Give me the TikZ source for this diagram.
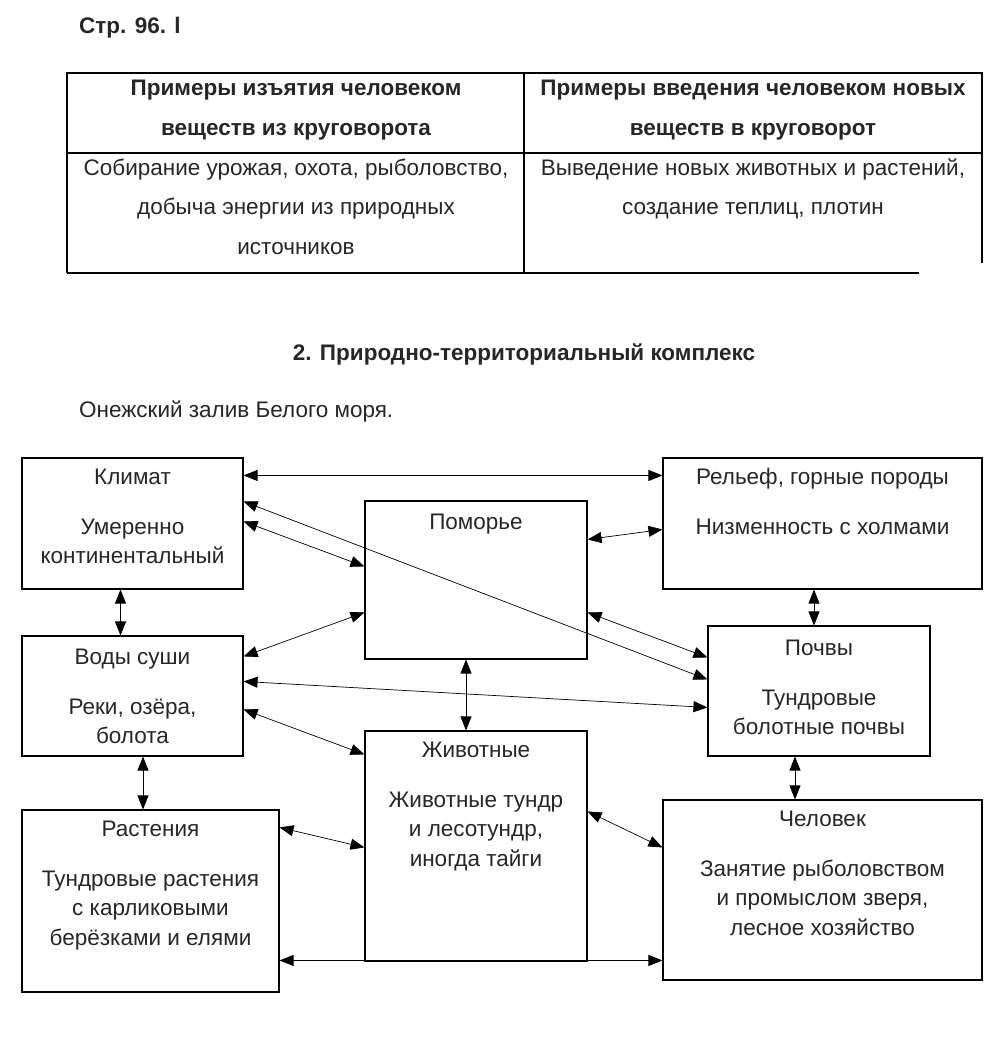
\documentclass[tikz,border=0pt]{standalone}
\usepackage{fontspec}
\setmainfont{Liberation Sans}
\usetikzlibrary{arrows.meta}

\begin{document}
\begin{tikzpicture}[x=1pt,y=-1pt,>={Triangle[length=14pt,width=11pt]},
    box/.style={draw, line width=1.1pt, inner sep=0pt},
    txt/.style={text=black!85, font=\fontsize{22.5}{29.5}\selectfont, align=center, inner sep=0pt, anchor=base},
    cell/.style={txt, font=\fontsize{22.5}{39.5}\selectfont},
    head/.style={cell, font=\fontsize{22.5}{40}\selectfont\bfseries},
    link/.style={<->, line width=0.7pt},
    rule/.style={line width=1.1pt}]
  \useasboundingbox (0,0) rectangle (993,1037);
  % page header and table (anchor base = baseline of the last line)
  \node[txt, anchor=base west, font=\fontsize{22.5}{27}\selectfont\bfseries] (page) at (79,33) {Стр. 96. l};
  \draw[rule] (67,273) -- (67,73) -- (982,73) -- (982,263);
  \draw[rule] (67,153) -- (982,153);
  \draw[rule] (67,273) -- (919,273);
  \draw[rule] (524,73) -- (524,273);
  \node[head] (hdL) at (296,135) {Примеры изъятия человеком\\веществ из круговорота};
  \node[head] (hdR) at (753,135) {Примеры введения человеком новых\\веществ в круговорот};
  \node[cell] (cellL) at (296,254) {Собирание урожая, охота, рыболовство,\\добыча энергии из природных\\источников};
  \node[cell] (cellR) at (753,214.5) {Выведение новых животных и растений,\\создание теплиц, плотин};
  \node[txt, font=\fontsize{22.5}{27}\selectfont\bfseries] (title) at (524,360) {2. Природно-территориальный комплекс};
  \node[txt, anchor=base west] (place) at (79,417) {Онежский залив Белого моря.};

  % components of the complex
  \node[box, minimum width=221pt, minimum height=131pt] (klimat) at (132.5,523.5) {};
  \node[box, minimum width=221pt, minimum height=120pt] (vody) at (132.5,696) {};
  \node[box, minimum width=257pt, minimum height=182pt] (rast) at (150.5,901) {};
  \node[box, minimum width=222pt, minimum height=158pt] (pomor) at (476,580) {};
  \node[box, minimum width=222pt, minimum height=230pt] (zhiv) at (476,846) {};
  \node[box, minimum width=319pt, minimum height=131pt] (rel) at (822.5,523.5) {};
  \node[box, minimum width=222pt, minimum height=130pt] (pochv) at (819,691) {};
  \node[box, minimum width=319pt, minimum height=180pt] (chel) at (822.5,890) {};

  \node[txt] (klimatT) at ([yshift=-106.5pt]klimat.north) {Климат\\[20pt]Умеренно\\континентальный};
  \node[txt] (vodyT) at ([yshift=-108.5pt]vody.north) {Воды суши\\[20pt]Реки, озёра,\\болота};
  \node[txt] (rastT) at ([yshift=-136pt]rast.north) {Растения\\[20pt]Тундровые растения\\с карликовыми\\берёзками и елями};
  \node[txt] (pomorT) at ([yshift=-29pt]pomor.north) {Поморье};
  \node[txt] (zhivT) at ([yshift=-136pt]zhiv.north) {Животные\\[20pt]Животные тундр\\и лесотундр,\\иногда тайги};
  \node[txt] (relT) at ([yshift=-77pt]rel.north) {Рельеф, горные породы\\[20pt]Низменность с холмами};
  \node[txt] (pochvT) at ([yshift=-109.5pt]pochv.north) {Почвы\\[20pt]Тундровые\\болотные почвы};
  \node[txt] (chelT) at ([yshift=-136pt]chel.north) {Человек\\[20pt]Занятие рыболовством\\и промыслом зверя,\\лесное хозяйство};

  % links
  \draw[link] ([yshift=-18pt]klimat.north east) -- ([yshift=-18pt]rel.north west);
  \draw[link] ([yshift=-44pt]klimat.north east) -- ([yshift=-54pt]pochv.north west);
  \draw[link] ([yshift=-64pt]klimat.north east) -- ([yshift=-66pt]pomor.north west);
  \draw[link] ([xshift=-12pt]klimat.south) -- ([xshift=-12pt]vody.north);
  \draw[link] ([yshift=-21pt]vody.north east) -- ([yshift=-112pt]pomor.north west);
  \draw[link] ([yshift=-46pt]vody.north east) -- ([yshift=-82pt]pochv.north west);
  \draw[link] ([yshift=-74pt]vody.north east) -- ([yshift=-24pt]zhiv.north west);
  \draw[link] ([xshift=-10pt]pomor.south) -- ([xshift=-10pt]zhiv.north);
  \draw[link] ([yshift=-39pt]pomor.north east) -- ([yshift=-72pt]rel.north west);
  \draw[link] ([xshift=-5pt]pochv.north |- rel.south) -- ([xshift=-5pt]pochv.north);
  \draw[link] ([yshift=-112pt]pomor.north east) -- ([yshift=-32pt]pochv.north west);
  \draw[link] ([xshift=10.5pt]vody.south) -- ([xshift=10.5pt]vody.south |- rast.north);
  \draw[link] ([yshift=-18pt]rast.north east) -- ([yshift=-117pt]zhiv.north west);
  \draw[link] ([yshift=-81pt]zhiv.north east) -- ([yshift=-48pt]chel.north west);
  \draw[link] ([xshift=-24pt]pochv.south) -- ([xshift=-24pt]pochv.south |- chel.north);
  \draw[link] ([yshift=-151pt]rast.north east) -- ([yshift=-161pt]chel.north west);
\end{tikzpicture}
\end{document}
